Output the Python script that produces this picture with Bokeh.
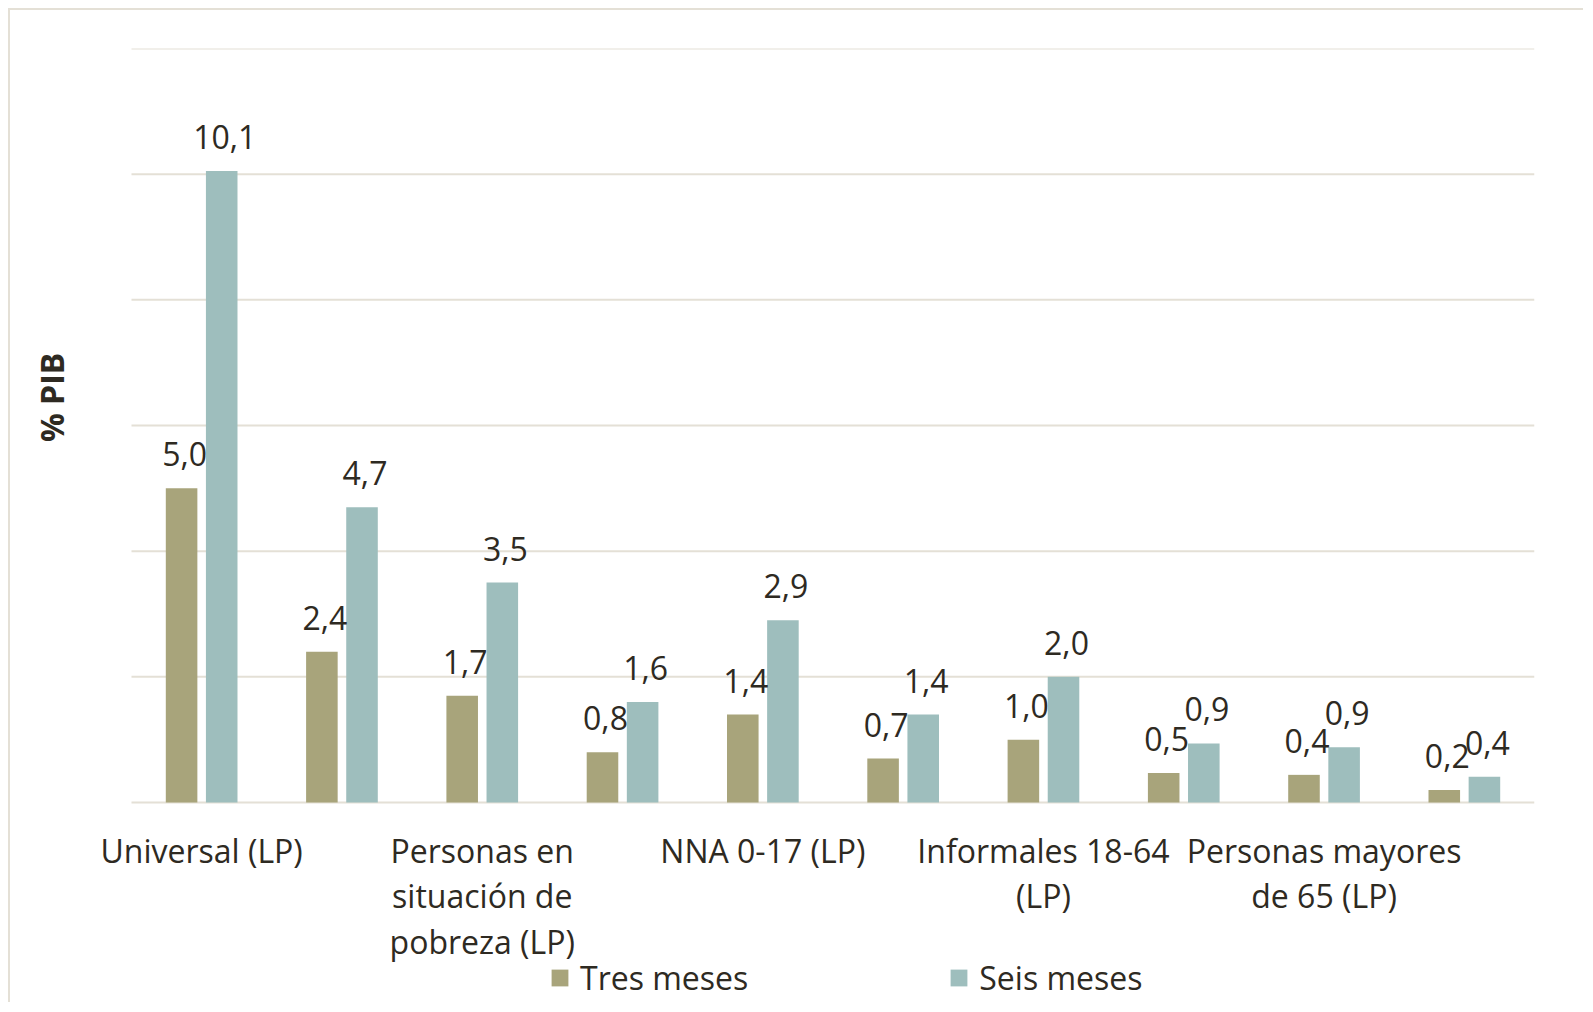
from bokeh.plotting import figure
from bokeh.models import ColumnDataSource, FixedTicker, Range1d, Legend, LegendItem
from bokeh.transform import dodge
from bokeh.core.properties import value
from bokeh.embed import file_html
from bokeh.resources import INLINE

# ---------------- data ----------------
categories = [
    "Universal (LP)", "Universal (LPE)",
    "Personas en situación de pobreza (LP)", "Personas en situación de pobreza (LPE)",
    "NNA 0-17 (LP)", "NNA 0-17 (LPE)",
    "Informales 18-64 (LP)", "Informales 18-64 (LPE)",
    "Personas mayores de 65 (LP)", "Personas mayores de 65 (LPE)",
]
tres_meses = [5.0, 2.4, 1.7, 0.8, 1.4, 0.7, 1.0, 0.47, 0.44, 0.2]
seis_meses = [10.05, 4.7, 3.5, 1.6, 2.9, 1.4, 2.0, 0.94, 0.88, 0.41]
series_names = ["Tres meses", "Seis meses"]

shown_tick_index = [0, 2, 4, 6, 8]
shown_tick_labels = [
    "Universal (LP)",
    "Personas en\nsituación de\npobreza (LP)",
    "NNA 0-17 (LP)",
    "Informales 18-64\n(LP)",
    "Personas mayores\nde 65 (LP)",
]
y_ticks = [0, 2, 4, 6, 8, 10, 12]
y_tick_labels = ["-", "2,0", "4,0", "6,0", "8,0", "10,0", "12,0"]
y_title = "% PIB"

# ---------------- style / layout ----------------
FONT = "Open Sans"
TXT = "#2E2A22"
C_TRES = "#A8A47B"
C_SEIS = "#9EBEBD"
GRID = "#E4E0D6"
FS = "32px"
BAR_W = 0.225
OFF = 0.143
PLOT_PX = 754          # pixel height of the 0..12 value area
EXTRA_PX = 200         # room below the zero line for category labels and legend
CAT_AREA_PX = 1403     # pixel width of the category area
LEFT_PAD_PX = 40       # room left of the first category so its label is not clipped
n_cat = len(categories)
cat_px = CAT_AREA_PX / n_cat
x_lo = -0.5 - LEFT_PAD_PX / cat_px
x_hi = n_cat - 0.5
y_lo = -EXTRA_PX * (y_ticks[-1] - y_ticks[0]) / PLOT_PX


def fmt(v):
    return f"{v:.1f}".replace(".", ",")


src = ColumnDataSource(dict(
    x=list(range(n_cat)),
    cat=categories,
    tres=tres_meses,
    seis=seis_meses,
    tres_lbl=[fmt(v) for v in tres_meses],
    seis_lbl=[fmt(v) for v in seis_meses],
))

cat_src = ColumnDataSource(dict(
    x=shown_tick_index,
    y=[0] * len(shown_tick_index),
    text=shown_tick_labels,
))

grid_src = ColumnDataSource(dict(
    x0=[-0.5] * len(y_ticks),
    x1=[x_hi] * len(y_ticks),
    y=y_ticks,
))

p = figure(
    frame_width=CAT_AREA_PX + LEFT_PAD_PX, frame_height=PLOT_PX + EXTRA_PX,
    x_range=Range1d(x_lo, x_hi),
    y_range=Range1d(y_lo, y_ticks[-1]),
    output_backend="svg", toolbar_location=None,
    min_border_left=121 - LEFT_PAD_PX, min_border_right=49, min_border_top=38, min_border_bottom=0,
    background_fill_color="white", border_fill_color="white",
    styles={"margin-left": "8px", "margin-top": "8px",
            "border-left": f"2px solid {GRID}", "border-top": f"2px solid {GRID}"},
)
p.outline_line_color = None

# horizontal gridlines spanning the category area only
p.segment(x0="x0", x1="x1", y0="y", y1="y", source=grid_src,
          line_color=GRID, line_width=2)

r1 = p.vbar(x=dodge("x", -OFF, range=p.x_range), top="tres", width=BAR_W, source=src,
            fill_color=C_TRES, line_color=None)
r2 = p.vbar(x=dodge("x", OFF, range=p.x_range), top="seis", width=BAR_W, source=src,
            fill_color=C_SEIS, line_color=None)

for col, off in (("tres", -OFF), ("seis", OFF)):
    p.text(x=dodge("x", off, range=p.x_range), y=col, text=col + "_lbl", source=src,
           text_align="center", text_baseline="alphabetic", y_offset=-34, x_offset=3,
           text_font=value(FONT), text_font_size=FS, text_color=TXT)

# category labels (every other category, as in the original)
p.text(x="x", y="y", text="text", source=cat_src,
       text_align="center", text_baseline="top", y_offset=26,
       text_line_height=1.06,
       text_font=value(FONT), text_font_size=FS, text_color=TXT)

# y axis
p.yaxis.ticker = FixedTicker(ticks=y_ticks)
p.yaxis.major_label_overrides = {t: (l + "\u2007" if l == "-" else l) for t, l in zip(y_ticks, y_tick_labels)}
p.yaxis.axis_line_color = None
p.yaxis.major_tick_line_color = None
p.yaxis.minor_tick_line_color = None
p.yaxis.major_label_standoff = 37 + LEFT_PAD_PX
p.yaxis.major_label_text_font = FONT
p.yaxis.major_label_text_font_size = FS
p.yaxis.major_label_text_color = TXT
p.yaxis.axis_label = "\u2007" * 14 + y_title
p.yaxis.axis_label_standoff = -51 - 2 * LEFT_PAD_PX
p.yaxis.axis_label_text_font = FONT
p.yaxis.axis_label_text_font_size = FS
p.yaxis.axis_label_text_font_style = "bold"
p.yaxis.axis_label_text_color = TXT

p.xaxis.visible = False
p.xgrid.grid_line_color = None
p.ygrid.grid_line_color = None

legend = Legend(
    items=[LegendItem(label=series_names[0], renderers=[r1]),
           LegendItem(label=series_names[1], renderers=[r2])],
    orientation="horizontal", location=(418 + LEFT_PAD_PX, 3), spacing=200,
    glyph_width=21, glyph_height=21, label_standoff=10,
    label_text_font=FONT, label_text_font_size=FS, label_text_color=TXT,
    border_line_color=None, background_fill_alpha=0, padding=0, margin=0,
)
p.add_layout(legend, "center")

open("out.html", "w").write(file_html(p, INLINE))
